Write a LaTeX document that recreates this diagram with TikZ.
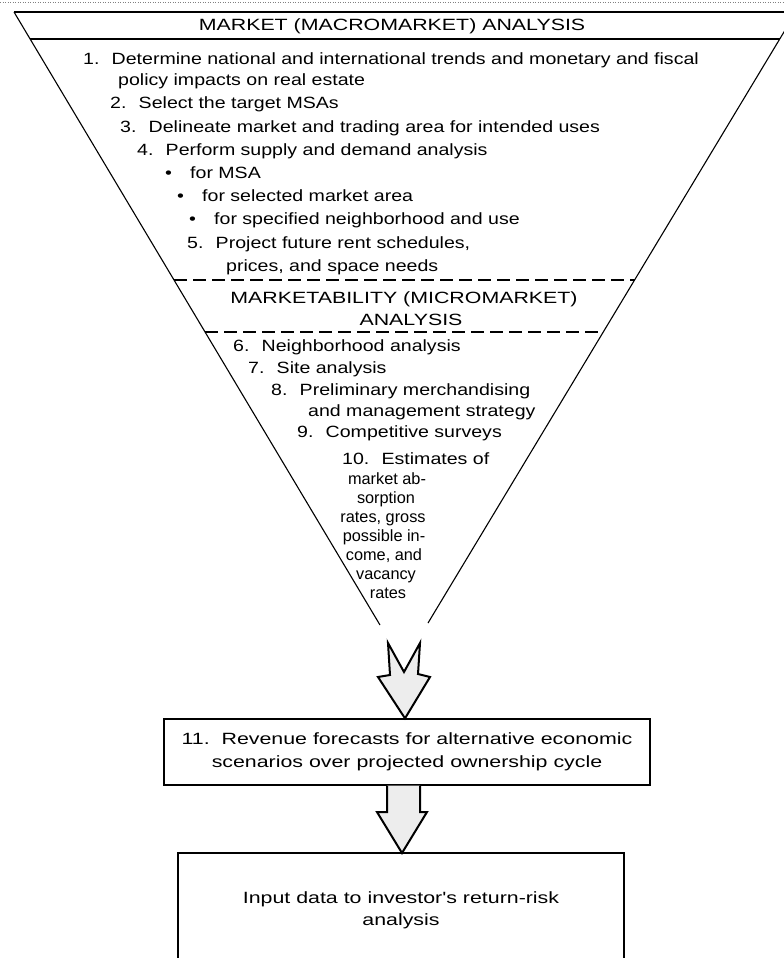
\documentclass[tikz,border=0pt]{standalone}
\usepackage{fontspec}
\newfontfamily\bodyfont{Liberation Sans}[FakeStretch=1.2]
\newfontfamily\headfont{Liberation Sans}[FakeStretch=1.31]
\newfontfamily\narrowfont{Liberation Sans}[FakeStretch=1.0]
\newcommand\itemno[1]{#1\hspace{0.75em}}
\begin{document}
\begin{tikzpicture}[x=1pt,y=-1pt,
  txt/.style={font=\bodyfont\fontsize{16.3}{22}\selectfont, inner sep=0pt, anchor=base west},
  ctxt/.style={font=\narrowfont\fontsize{16.3}{22}\selectfont, inner sep=0pt, anchor=base},
  head/.style={font=\headfont\fontsize{16.3}{22}\selectfont, inner sep=0pt, anchor=base},
  edge/.style={line width=1.1pt},
  divider/.style={line width=1.1pt, dash pattern=on 13pt off 6pt},
  bigarrow/.style={line width=2pt, fill=gray!14, line join=miter},
  boxline/.style={line width=1.3pt}]
\useasboundingbox (0,0) rectangle (784,958);
\begin{scope}
\clip (0,0) rectangle (784,958);
% page rule at the very top
\draw[line width=0.5pt, gray, dotted] (0,2) -- (784,2);
% funnel outline
\coordinate (tl) at (14,12);
\coordinate (tr) at (796,12);
\coordinate (bl) at (380,625);
\coordinate (br) at (428,623);
\draw[edge] (tl) -- (tr);
\draw[edge] (tl) -- (bl);
\draw[edge] (tr) -- (br);
\draw[edge] (30,39) -- (780,39);
\draw[divider] (174,280) -- (635,280);
\draw[divider] (205,332) -- (604,332);

% headings
\node[head] (h1) at (392,31) {MARKET (MACROMARKET) ANALYSIS};
\node[head] (h2a) at (404,303) {MARKETABILITY (MICROMARKET)};
\node[head] (h2b) at (411,325) {ANALYSIS};

% macromarket steps
\node[txt] (s1a) at (83,65) {\itemno{1.}Determine national and international trends and monetary and fiscal};
\node[txt] (s1b) at (118,85) {policy impacts on real estate};
\node[txt] (s2) at (110,108) {\itemno{2.}Select the target MSAs};
\node[txt] (s3) at (120,132) {\itemno{3.}Delineate market and trading area for intended uses};
\node[txt] (s4) at (137,155) {\itemno{4.}Perform supply and demand analysis};
\node[txt] (s4a) at (165,178) {\makebox[25pt][l]{•}for MSA};
\node[txt] (s4b) at (177,201) {\makebox[25pt][l]{•}for selected market area};
\node[txt] (s4c) at (189,224) {\makebox[25pt][l]{•}for specified neighborhood and use};
\node[txt] (s5a) at (187,248) {\itemno{5.}Project future rent schedules,};
\node[txt] (s5b) at (226,271) {prices, and space needs};

% micromarket steps
\node[txt] (s6) at (233,351) {\itemno{6.}Neighborhood analysis};
\node[txt] (s7) at (248,373) {\itemno{7.}Site analysis};
\node[txt] (s8a) at (271,395) {\itemno{8.}Preliminary merchandising};
\node[txt] (s8b) at (308,416) {and management strategy};
\node[txt] (s9) at (297,437) {\itemno{9.}Competitive surveys};
\node[txt] (s10a) at (342,464) {\itemno{10.}Estimates of};
\node[ctxt] (s10b) at (387,484) {market ab-};
\node[ctxt] (s10c) at (386,503) {sorption};
\node[ctxt] (s10d) at (383,522) {rates, gross};
\node[ctxt] (s10e) at (384,541) {possible in-};
\node[ctxt] (s10f) at (384,560) {come, and};
\node[ctxt] (s10g) at (386,579) {vacancy};
\node[ctxt] (s10h) at (388,598) {rates};

% revenue forecast box
\node[draw, boxline, minimum width=486pt, minimum height=66pt, inner sep=0pt,
      align=center, font=\headfont\fontsize{16.3}{23}\selectfont] (rev) at (407,752)
  {11.\ \ Revenue forecasts for alternative economic\\scenarios over projected ownership cycle};

% arrow from the funnel into the box
\draw[bigarrow] (388,643) -- (390,675) -- (378,677) -- (rev.north -| 405,0) -- (430,677)
  -- (418,674) -- (420,643) -- (404,672) -- cycle;

% final box, open at the bottom
\coordinate (inTL) at (178,853);
\coordinate (inTR) at (624,853);
\draw[boxline] (178,970) -- (inTL) -- (inTR) -- (624,970);
\node[align=center, inner sep=0pt, font=\headfont\fontsize{16.3}{22}\selectfont] (inp) at (401,910)
  {Input data to investor's return-risk\\analysis};

% arrow from the box to the final box
\draw[bigarrow] (rev.south -| 387,0) -- (387,812) -- (377,812) -- (inTL -| 402,0) -- (427,812)
  -- (420,812) -- (rev.south -| 420,0);
\end{scope}
\end{tikzpicture}
\end{document}
